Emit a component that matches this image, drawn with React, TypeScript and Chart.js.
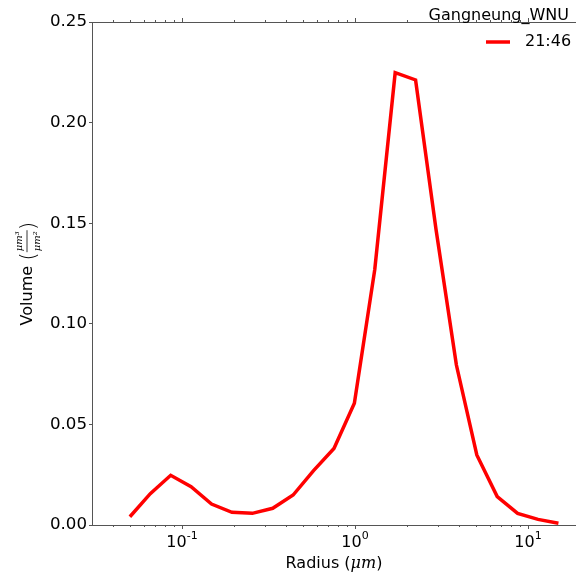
import React, { useEffect, useRef } from 'react';
import { Chart, registerables } from 'chart.js';

Chart.register(...registerables);

// ---- data ----
const radius = [
  0.05, 0.065604, 0.086077, 0.112939, 0.148184, 0.194429, 0.255105, 0.334716,
  0.439173, 0.576227, 0.756052, 0.991996, 1.301571, 1.707757, 2.240702,
  2.939966, 3.857452, 5.06126, 6.640745, 8.713145, 11.432287, 15.0,
];
const volume = [
  0.0041, 0.0156, 0.0247, 0.019, 0.0104, 0.0063, 0.0058, 0.0083,
  0.0149, 0.027, 0.038, 0.0605, 0.127, 0.2248, 0.2212,
  0.147, 0.0795, 0.0348, 0.0141, 0.0058, 0.0028, 0.0009,
];
const yTicks = [0, 0.05, 0.1, 0.15, 0.2, 0.25];
const xMajorTicks = [0.1, 1, 10];
const xTickExponents = ['-1', '0', '1'];
const seriesLabel = '21:46';
const siteTitle = 'Gangneung_WNU';
const xAxisTitle = 'Radius (';
const xAxisUnit = 'μm';
const yAxisTitle = 'Volume';
const yUnitNum = 'μm³';
const yUnitDen = 'μm²';

const X_MIN = 0.0302;
const X_MAX = 18.95;
const FONT = 'DejaVu Sans';
const SPINE = '#555555';
const RED = '#ff0000';

const decorPlugin = {
  id: 'decor',
  afterDraw(chart: any) {
    const { ctx, chartArea } = chart;
    const xs = chart.scales.x;
    const { left, right, top, bottom } = chartArea;
    ctx.save();
    // top spine
    ctx.strokeStyle = SPINE;
    ctx.lineWidth = 1;
    ctx.beginPath();
    ctx.moveTo(left, Math.round(top) + 0.5);
    ctx.lineTo(right, Math.round(top) + 0.5);
    ctx.stroke();

    // x ticks (major + minor), bottom and top, outward
    const ticks: { v: number; major: boolean }[] = [];
    for (let d = -2; d <= 1; d++) {
      for (let k = 1; k <= 9; k++) {
        const v = k * Math.pow(10, d);
        if (v >= X_MIN && v <= X_MAX) ticks.push({ v, major: k === 1 });
      }
    }
    ctx.beginPath();
    for (const t of ticks) {
      const px = Math.round(xs.getPixelForValue(t.v)) + 0.5;
      const len = t.major ? 4 : 2;
      ctx.moveTo(px, bottom);
      ctx.lineTo(px, bottom + len);
      ctx.moveTo(px, top);
      ctx.lineTo(px, top - len);
    }
    ctx.stroke();

    // x tick labels 10^n
    ctx.fillStyle = '#000';
    ctx.textBaseline = 'alphabetic';
    ctx.textAlign = 'left';
    xMajorTicks.forEach((v, i) => {
      const px = xs.getPixelForValue(v);
      ctx.font = `16px "${FONT}"`;
      const wBase = ctx.measureText('10').width;
      ctx.font = `11px "${FONT}"`;
      const wExp = ctx.measureText(xTickExponents[i]).width;
      const startX = px - (wBase + wExp) / 2;
      ctx.font = `16px "${FONT}"`;
      ctx.fillText('10', startX, 547);
      ctx.font = `11px "${FONT}"`;
      ctx.fillText(xTickExponents[i], startX + wBase, 539);
    });

    // x axis title
    {
      ctx.font = `16px "${FONT}"`;
      const w1 = ctx.measureText(xAxisTitle).width;
      ctx.font = `italic 16px "DejaVu Serif"`;
      const w2 = ctx.measureText(xAxisUnit).width;
      ctx.font = `16px "${FONT}"`;
      const w3 = ctx.measureText(')').width;
      const cx = (left + right) / 2;
      let x0 = cx - (w1 + w2 + w3) / 2;
      const by = 568;
      ctx.font = `16px "${FONT}"`;
      ctx.fillText(xAxisTitle, x0, by);
      x0 += w1;
      ctx.font = `italic 16px "DejaVu Serif"`;
      ctx.fillText(xAxisUnit, x0, by);
      x0 += w2;
      ctx.font = `16px "${FONT}"`;
      ctx.fillText(')', x0, by);
    }

    // y axis title, rotated
    {
      ctx.save();
      const cy = (top + bottom) / 2;
      ctx.translate(32, cy);
      ctx.rotate(-Math.PI / 2);
      ctx.font = `16px "${FONT}"`;
      const wV = ctx.measureText(yAxisTitle + ' ').width;
      ctx.font = `200 22px "${FONT}"`;
      const wP = ctx.measureText('(').width;
      ctx.font = `italic 10px "DejaVu Serif"`;
      const wN = ctx.measureText(yUnitNum).width;
      const wD = ctx.measureText(yUnitDen).width;
      const wF = Math.max(wN, wD) + 2;
      const total = wV + wP + wF + wP;
      let x0 = -total / 2;
      ctx.fillStyle = '#000';
      ctx.textAlign = 'left';
      ctx.font = `16px "${FONT}"`;
      ctx.fillText(yAxisTitle + ' ', x0, 0);
      x0 += wV;
      ctx.font = `200 22px "${FONT}"`;
      ctx.fillText('(', x0, 3);
      x0 += wP;
      ctx.font = `italic 10px "DejaVu Serif"`;
      ctx.fillText(yUnitNum, x0 + (wF - wN) / 2, -10);
      ctx.fillText(yUnitDen, x0 + (wF - wD) / 2, 8);
      ctx.strokeStyle = '#000';
      ctx.lineWidth = 0.8;
      ctx.beginPath();
      ctx.moveTo(x0, -5);
      ctx.lineTo(x0 + wF, -5);
      ctx.stroke();
      x0 += wF;
      ctx.font = `200 22px "${FONT}"`;
      ctx.fillText(')', x0, 3);
      ctx.restore();
    }

    // title
    ctx.font = `16px "${FONT}"`;
    ctx.textAlign = 'right';
    ctx.textBaseline = 'alphabetic';
    ctx.fillText(siteTitle, 569, 20);

    // legend
    ctx.strokeStyle = RED;
    ctx.lineWidth = 3.5;
    ctx.beginPath();
    ctx.moveTo(486, 42);
    ctx.lineTo(510, 42);
    ctx.stroke();
    ctx.textAlign = 'left';
    ctx.textBaseline = 'middle';
    ctx.font = `16px "${FONT}"`;
    ctx.fillText(seriesLabel, 525, 42);

    ctx.restore();
  },
};

export default function App() {
  const ref = useRef<HTMLCanvasElement | null>(null);
  useEffect(() => {
    if (!ref.current) return;
    const chart = new Chart(ref.current, {
      type: 'line',
      data: {
        datasets: [
          {
            label: seriesLabel,
            data: radius.map((r, i) => ({ x: r, y: volume[i] })),
            borderColor: RED,
            borderWidth: 3.5,
            pointRadius: 0,
            tension: 0,
            fill: false,
          },
        ],
      },
      options: {
        responsive: false,
        animation: false,
        layout: { padding: { left: 0, top: 22, right: 0, bottom: 0 } },
        plugins: {
          legend: { display: false },
          title: { display: false },
          tooltip: { enabled: false },
        },
        scales: {
          x: {
            type: 'logarithmic',
            min: X_MIN,
            max: X_MAX,
            grid: { display: false },
            ticks: { display: false },
            border: { display: true, color: SPINE, width: 1 },
            afterFit: (s: any) => {
              s.height = 47;
            },
          },
          y: {
            type: 'linear',
            min: 0,
            max: 0.25,
            afterBuildTicks: (s: any) => {
              s.ticks = yTicks.map((v) => ({ value: v }));
            },
            ticks: {
              callback: (v: any) => Number(v).toFixed(2),
              font: { family: FONT, size: 16.67 },
              color: '#000',
              padding: 2,
            },
            grid: { drawOnChartArea: false, drawTicks: true, tickLength: 3, color: SPINE },
            border: { display: true, color: SPINE, width: 1 },
            afterFit: (s: any) => {
              s.width = 92;
            },
          },
        },
      },
      plugins: [decorPlugin],
    } as any);
    return () => chart.destroy();
  }, []);
  return (
    <div style={{ position: 'absolute', left: 0, top: 0, width: 576, height: 572 }}>
      <canvas ref={ref} width={576} height={572} style={{ width: 576, height: 572, display: 'block' }} />
    </div>
  );
}
